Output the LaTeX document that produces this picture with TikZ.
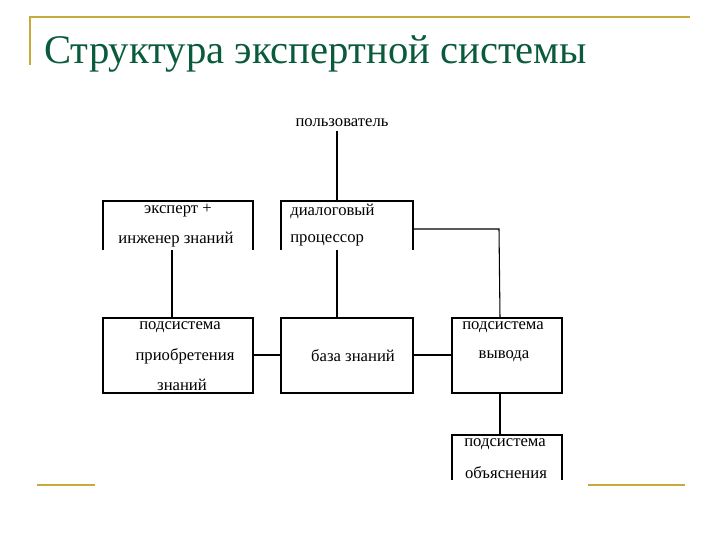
\documentclass[tikz,border=0pt]{standalone}
\usepackage{fontspec}
\setmainfont{Liberation Serif}
\definecolor{gold}{RGB}{200,170,60}
\definecolor{ttl}{RGB}{10,90,60}
\begin{document}
\begin{tikzpicture}[x=0.75pt,y=-0.75pt,
  txt/.style={font=\fontsize{12.5}{14}\selectfont, inner sep=0},
  ln/.style={line width=0.8pt},
  gl/.style={gold, line width=1.6pt}]
\useasboundingbox (0,0) rectangle (720,540);
\draw[gl] (30,65) -- (30,17) -- (690,17);
\draw[gl] (37,485) -- (95,485);
\draw[gl] (588,485) -- (685,485);
\node[anchor=base west, text=ttl, font=\fontsize{30.5}{33}\selectfont, inner sep=0] (title) at (44,63) {Структура экспертной системы};
\coordinate (e1) at (103,201); \coordinate (e2) at (253,250);
\coordinate (d1) at (281,201); \coordinate (d2) at (413,250);
\coordinate (a1) at (103,318); \coordinate (a2) at (253,393);
\coordinate (k1) at (281,318); \coordinate (k2) at (413,393);
\coordinate (i1) at (452,318); \coordinate (i2) at (562,393);
\coordinate (x1) at (452,435); \coordinate (x2) at (562,480);
\draw[ln] (e1 |- e2) -- (e1) -- (e2 |- e1) -- (e2);
\draw[ln] (d1 |- d2) -- (d1) -- (d2 |- d1) -- (d2);
\draw[ln] (x1 |- x2) -- (x1) -- (x2 |- x1) -- (x2);
\draw[ln] (a1) rectangle (a2);
\draw[ln] (k1) rectangle (k2);
\draw[ln] (i1) rectangle (i2);
\node[txt] (user) at (342,123) {пользователь};
\node[txt] (e-t1) at (178,211) {эксперт +};
\node[txt] (e-t2) at (176,240) {инженер знаний};
\node[txt, anchor=west] (d-t1) at (290,211) {диалоговый};
\node[txt, anchor=west] (d-t2) at (290,240) {процессор};
\node[txt] (a-t1) at (180,327) {подсистема};
\node[txt] (a-t2) at (185,356) {приобретения};
\node[txt] (a-t3) at (182,385) {знаний};
\node[txt] (k-t) at (353,356) {база знаний};
\node[txt] (i-t1) at (503,327) {подсистема};
\node[txt] (i-t2) at (504,356) {вывода};
\node[txt] (x-t1) at (505,444) {подсистема};
\node[txt] (x-t2) at (506,473) {объяснения};
\coordinate (u0) at (337,131);
\draw[ln] (u0) -- (u0 |- d1);
\draw[ln] (172,250) -- (172,318);
\draw[ln] (337,250) -- (337,318);
\draw[ln] (413,229) -- (499,229) -- (500,318);
\draw[ln] (253,355) -- (281,355);
\draw[ln] (413,355) -- (452,355);
\draw[ln] (500,393) -- (500,435);
\end{tikzpicture}
\end{document}
